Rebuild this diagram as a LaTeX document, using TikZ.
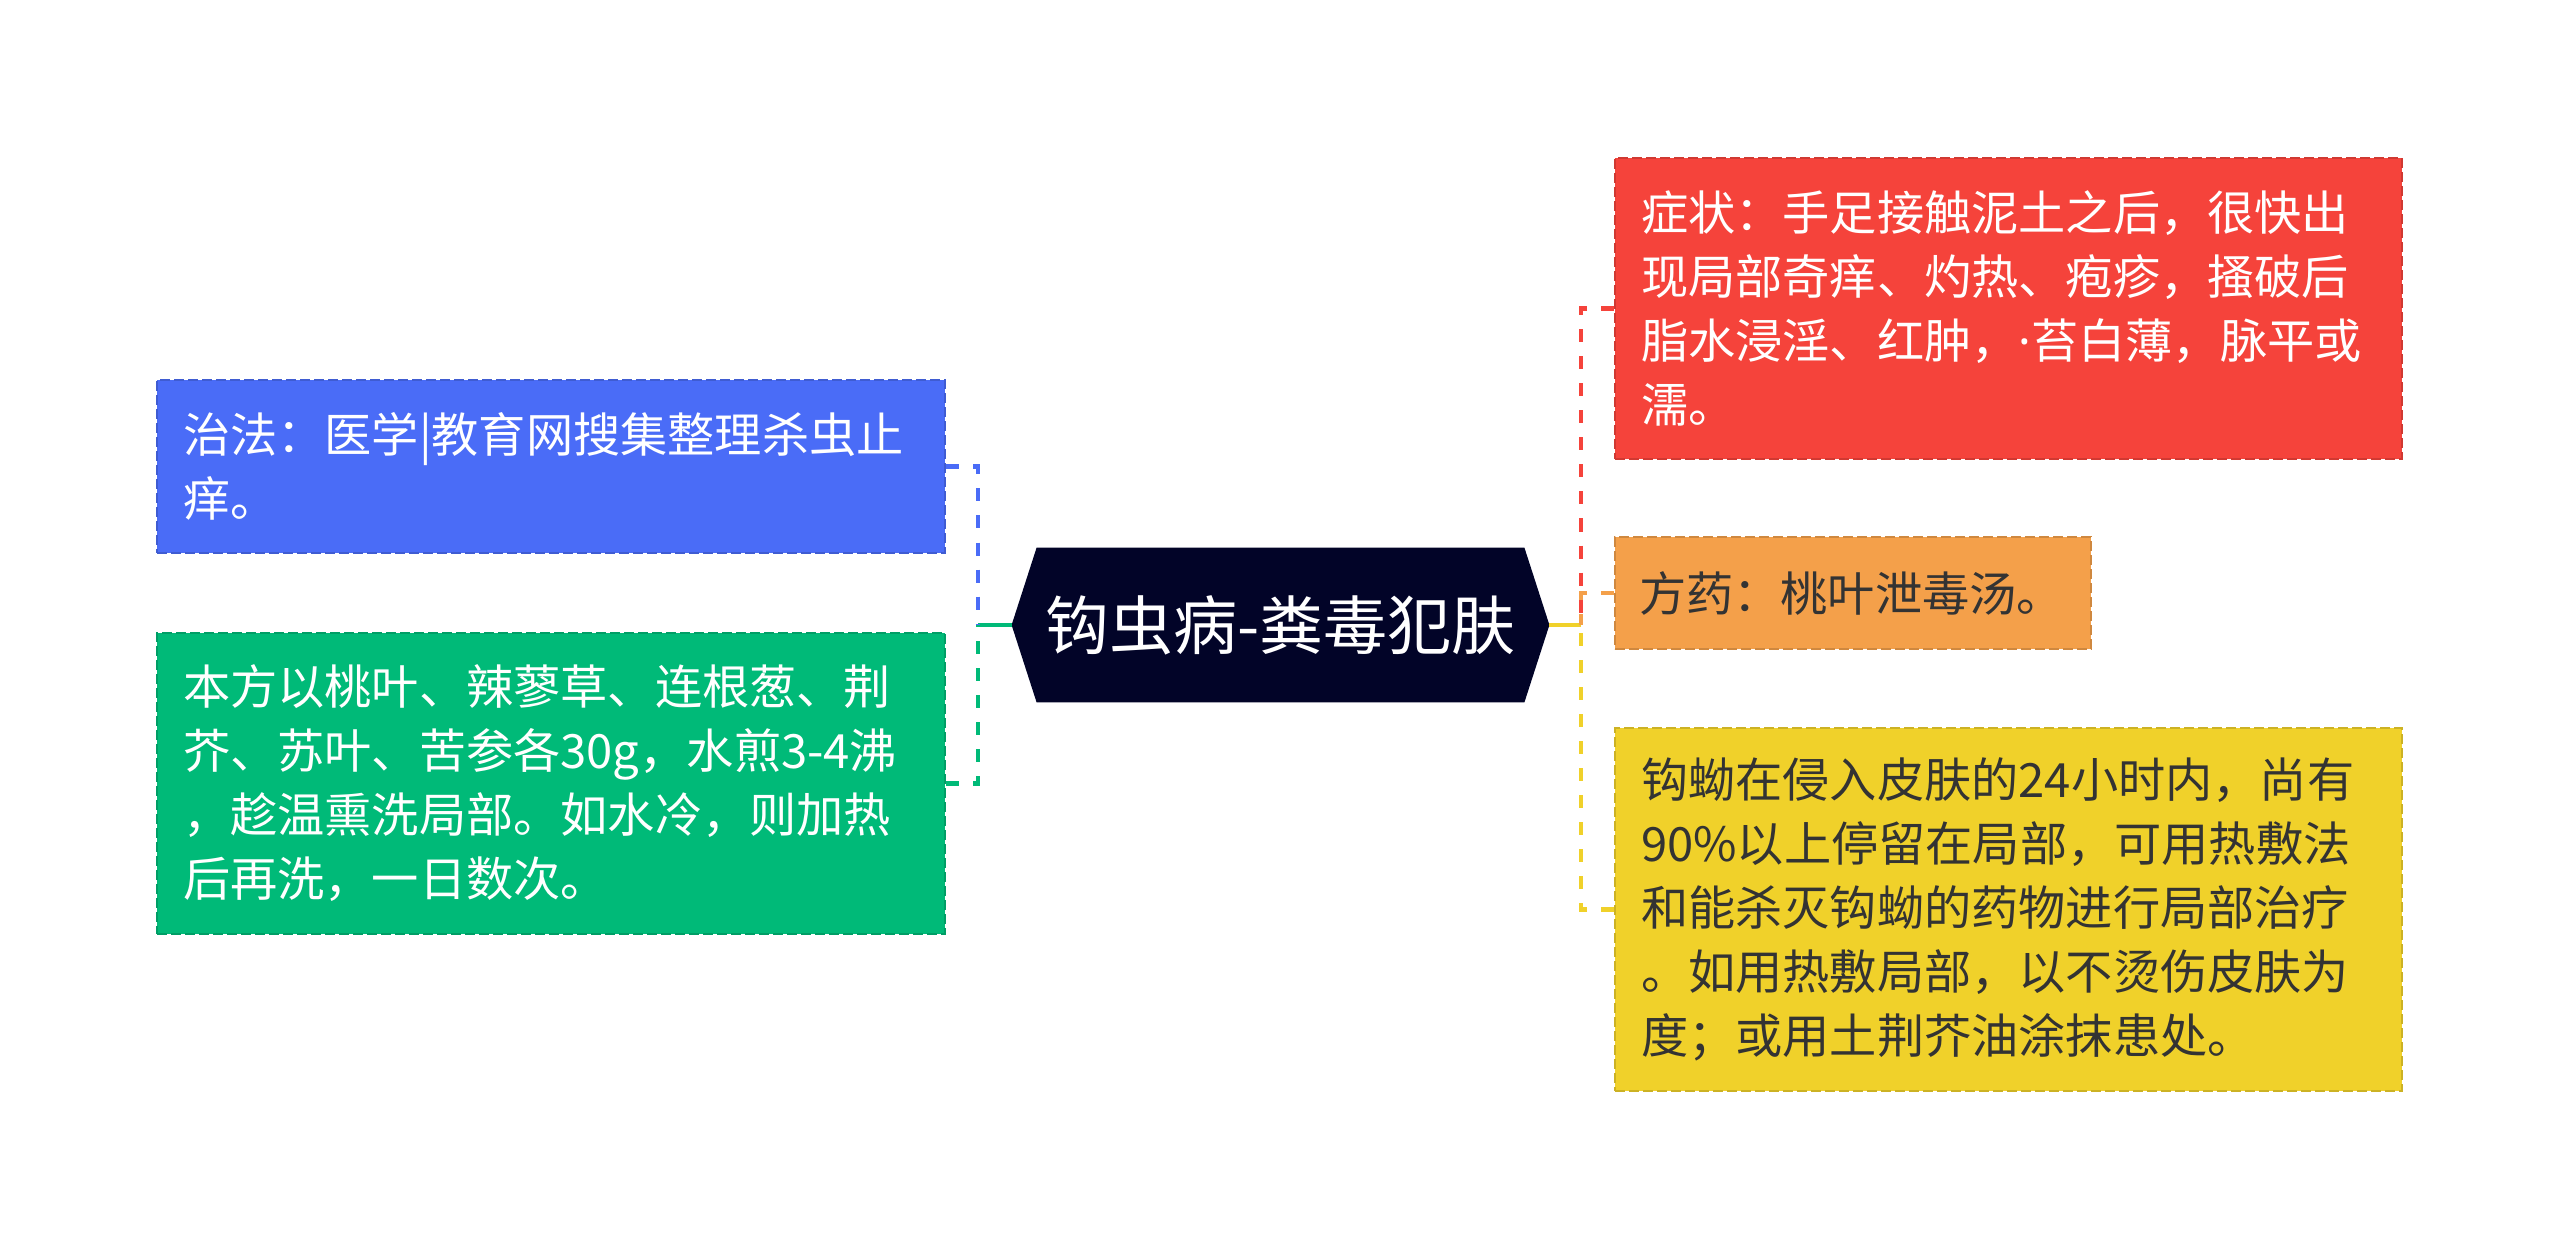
\documentclass[tikz,border=0pt]{standalone}
\usepackage{fontspec}
\setmainfont{Noto Sans CJK SC}
\newfontfamily\latinfont{Noto Sans}
\usetikzlibrary{backgrounds}
\definecolor{cblue}{HTML}{4A6CF7}
\definecolor{cgreen}{HTML}{00BA78}
\definecolor{cred}{HTML}{F5433B}
\definecolor{corange}{HTML}{F4A04A}
\definecolor{cyellow}{HTML}{F0D12A}
\definecolor{cnavy}{HTML}{020428}
\definecolor{ctext}{HTML}{333333}
\begin{document}
\begin{tikzpicture}[x=0.5pt,y=-0.5pt,
  box/.style={rectangle, inner xsep=13pt, inner ysep=0pt, align=left,
    font=\fontsize{23.6}{32}\selectfont, text=white,
    dash pattern=on 5pt off 2pt, line width=1pt},
  conn/.style={line width=2.4pt, dash pattern=on 6.5pt off 7pt},
  stub/.style={line width=2.4pt}]
\useasboundingbox (0,0) rectangle (2560,1251);

\node (hub) [inner sep=0pt, minimum width=268.5pt, minimum height=77pt,
  text=white, font=\fontsize{32}{38}\selectfont] at (1280.5,625) {钩虫病-粪毒犯肤};
\begin{scope}[on background layer]
\fill[cnavy] (hub.west) -- ([xshift=12.5pt]hub.north west) -- ([xshift=-12.5pt]hub.north east)
  -- (hub.east) -- ([xshift=-12.5pt]hub.south east) -- ([xshift=12.5pt]hub.south west) -- cycle;
\end{scope}

\node (blue) [box, fill=cblue, draw=cblue!85!black, text width=368pt, minimum height=86.5pt]
  at (551,466.5) {治法：医学|教育网搜集整理杀虫止\\痒。};
\node (green) [box, fill=cgreen, draw=cgreen!85!black, text width=368pt, minimum height=150.5pt]
  at (551,783.5) {本方以桃叶、辣蓼草、连根葱、荆\\芥、苏叶、苦参各30g，水煎3-4沸\\，趁温熏洗局部。如水冷，则加热\\后再洗，一日数次。};
\node (red) [box, fill=cred, draw=cred!85!black, text width=367.5pt, minimum height=150.5pt]
  at (2008.5,308.5) {症状：手足接触泥土之后，很快出\\现局部奇痒、灼热、疱疹，搔破后\\脂水浸淫、红肿，{\latinfont ·}苔白薄，脉平或\\濡。};
\node (orange) [box, fill=corange, draw=corange!85!black, text=ctext, inner xsep=12pt, text width=214pt, minimum height=56pt]
  at (1853,593) {方药：桃叶泄毒汤。};
\node (yellow) [box, fill=cyellow, draw=cyellow!85!black, text=ctext, text width=367.5pt, minimum height=181.5pt]
  at (2008.5,909.5) {钩蚴在侵入皮肤的24小时内，尚有\\90\%以上停留在局部，可用热敷法\\和能杀灭钩蚴的药物进行局部治疗\\。如用热敷局部，以不烫伤皮肤为\\度；或用土荆芥油涂抹患处。};

\coordinate (jl) at (978,625);
\coordinate (jr) at (1581,625);
\draw[stub, cgreen] (hub.west) -- (jl);
\draw[conn, cblue] (blue.east) -| (jl);
\draw[conn, cgreen] (green.east) -| (jl);
\draw[stub, cyellow] (hub.east) -- (jr);
\draw[conn, cred] (red.west) -| (jr);
\draw[conn, corange] (orange.west) -| (jr);
\draw[conn, cyellow] (yellow.west) -| (jr);
\end{tikzpicture}
\end{document}
